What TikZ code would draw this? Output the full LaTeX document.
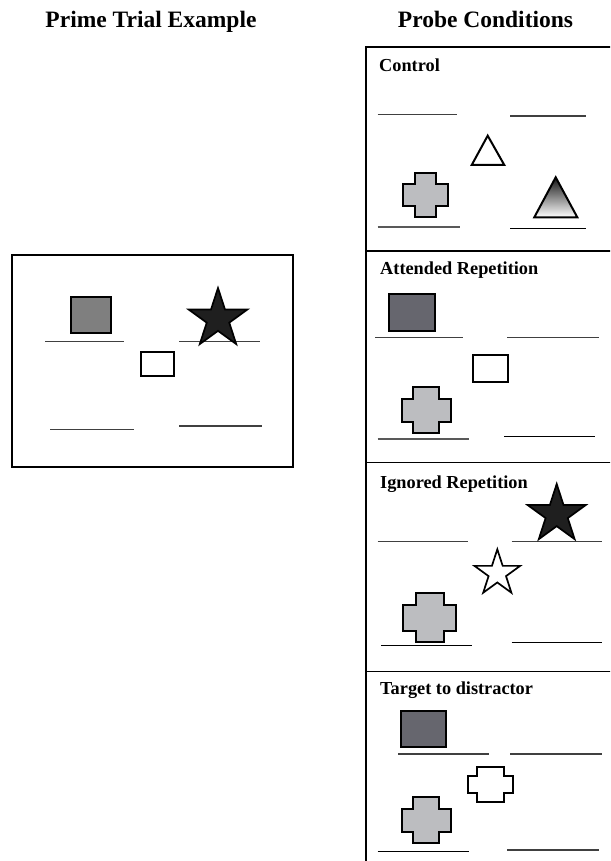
\documentclass[tikz,border=0pt]{standalone}
\usepackage{fontspec}
\setmainfont{Liberation Serif}
\usetikzlibrary{shapes.geometric}

% plus-shaped figure: style, centre x, centre y, width, height, bar width, bar height
\newcommand\plusfig[7]{%
  \pgfmathsetmacro\plA{#2-#4/2}\pgfmathsetmacro\plB{#2-#6/2}%
  \pgfmathsetmacro\plC{#2+#6/2}\pgfmathsetmacro\plD{#2+#4/2}%
  \pgfmathsetmacro\qlA{#3-#5/2}\pgfmathsetmacro\qlB{#3-#7/2}%
  \pgfmathsetmacro\qlC{#3+#7/2}\pgfmathsetmacro\qlD{#3+#5/2}%
  \draw[#1] (\plB,\qlA) -- (\plC,\qlA) -- (\plC,\qlB) -- (\plD,\qlB) -- (\plD,\qlC)
    -- (\plC,\qlC) -- (\plC,\qlD) -- (\plB,\qlD) -- (\plB,\qlC) -- (\plA,\qlC)
    -- (\plA,\qlB) -- (\plB,\qlB) -- cycle;}

\definecolor{midgray}{HTML}{7F7F7F}
\definecolor{darkslate}{HTML}{66666E}
\definecolor{crossgray}{HTML}{BCBDC0}
\definecolor{baseline}{HTML}{404040}

\tikzset{
  title/.style={font=\fontsize{23.5}{26}\selectfont\bfseries, inner sep=0pt, anchor=base},
  label/.style={font=\fontsize{18.3}{21}\selectfont\bfseries, inner sep=0pt, anchor=base west},
  frame/.style={line width=2pt, draw=black},
  figure/.style={line width=2pt, draw=black, line join=miter},
  rest/.style={line width=1.5pt, draw=baseline},
  starfig/.style={star, star points=5, star point ratio=2.618, inner sep=0pt,
    draw=black, line width=1.7pt},
}

\begin{document}
\begin{tikzpicture}[x=1pt, y=-1pt]
\useasboundingbox (0,0) rectangle (610,861);
\clip (0,0) rectangle (610,861);

% headings
\node[title] (hprime) at (151,27.7) {Prime Trial Example};
\node[title] (hprobe) at (485.5,27.7) {Probe Conditions};

% ---------- prime display ----------
\draw[frame] (11.7,255) rectangle (292.7,466.7);
\draw[rest] (45,341.7) -- (124,341.7);
\draw[rest] (179,341.7) -- (260,341.7);
\draw[rest] (50,429.3) -- (133.7,429.3);
\draw[rest] (179,426) -- (261.7,426);
\draw[figure, fill=midgray] (71,296.7) rectangle (110.7,333.3);
\node[starfig, fill=black!88, minimum size=62pt] (pstar) at (218,319) {};
\draw[figure, fill=white] (140.7,352.3) rectangle (173.7,376);

% ---------- probe panel frame ----------
\draw[frame] (612,47.3) -- (366,47.3) -- (366,863);
\draw[line width=1.5pt] (366,251) -- (612,251);
\draw[line width=1.5pt] (366,462.7) -- (612,462.7);
\draw[line width=1.5pt] (366,671.7) -- (612,671.7);

% ---------- control ----------
\node[label] (lctrl) at (379,71.7) {Control};
\draw[rest] (377.7,114.7) -- (456.7,114.7);
\draw[rest] (510.3,116) -- (586,116);
\draw[rest, draw=black!65, line width=1.8pt] (377.7,226.7) -- (460,226.7);
\draw[rest, draw=black] (510.3,228.3) -- (586,228.3);
\draw[figure, fill=white] (487.7,135.7) -- (504.3,165) -- (471.7,165) -- cycle;
\plusfig{figure, fill=crossgray}{425.5}{195}{44.4}{43.4}{21}{21.7}
\shade[top color=black!92, bottom color=white] (555.7,177.3) -- (577.3,217.3) -- (534.3,217.3) -- cycle;
\draw[figure] (555.7,177.3) -- (577.3,217.3) -- (534.3,217.3) -- cycle;

% ---------- attended repetition ----------
\node[label] (lattn) at (380,274) {Attended Repetition};
\draw[figure, fill=darkslate] (389.3,294) rectangle (435.3,330.7);
\draw[rest] (375,337.3) -- (463.3,337.3);
\draw[rest] (507.3,337.3) -- (598.7,337.3);
\draw[figure, fill=white] (473,355.3) rectangle (508,381.7);
\plusfig{figure, fill=crossgray}{426.3}{410.3}{49.3}{46}{26}{22.7}
\draw[rest, draw=black!65] (377.7,439) -- (469.3,439);
\draw[rest, draw=black] (504.3,436.7) -- (595.3,436.7);

% ---------- ignored repetition ----------
\node[label] (lign) at (380,488.3) {Ignored Repetition};
\draw[rest] (377.7,541.3) -- (467.7,541.3);
\draw[rest] (511.7,541.3) -- (601.7,541.3);
\node[starfig, fill=black!88, minimum size=61pt] (istar) at (556.7,514.5) {};
\node[starfig, fill=white, minimum size=48pt] (wstar) at (497.3,573.3) {};
\plusfig{figure, fill=crossgray}{429.7}{617.8}{52.7}{49}{28.3}{26}
\draw[rest, draw=black] (381,645.7) -- (472.3,645.7);
\draw[rest, draw=black] (511.7,642.7) -- (601.7,642.7);

% ---------- target to distractor ----------
\node[label] (ltgt) at (380,694) {Target to distractor};
\draw[figure, fill=darkslate] (400.7,710.7) rectangle (446,746.7);
\draw[rest] (398.3,754) -- (489.3,754);
\draw[rest] (510.3,754) -- (601.7,754);
\plusfig{figure, fill=white}{490.2}{784.5}{45}{34.4}{27.3}{17}
\plusfig{figure, fill=crossgray}{426.3}{820.3}{49.3}{46}{26}{23}
\draw[rest, draw=black] (377.7,851.7) -- (469.3,851.7);
\draw[rest] (507.3,850) -- (598.7,850);
\end{tikzpicture}
\end{document}
